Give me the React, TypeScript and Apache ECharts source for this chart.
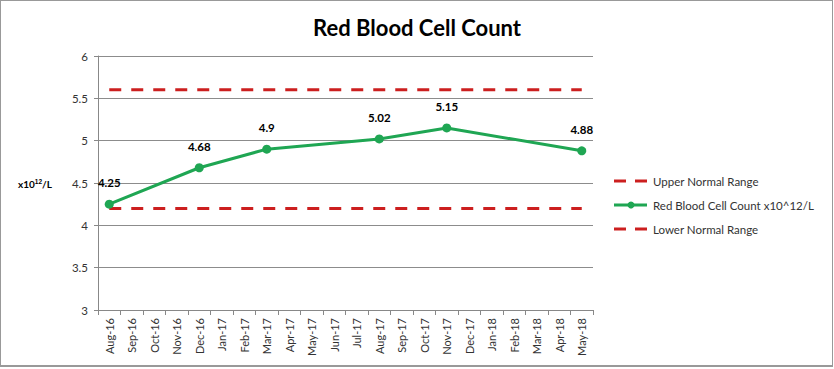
import React, { useEffect, useRef } from "react";
import * as echarts from "echarts";

const categories = [
  "Aug-16", "Sep-16", "Oct-16", "Nov-16", "Dec-16", "Jan-17", "Feb-17", "Mar-17",
  "Apr-17", "May-17", "Jun-17", "Jul-17", "Aug-17", "Sep-17", "Oct-17", "Nov-17",
  "Dec-17", "Jan-18", "Feb-18", "Mar-18", "Apr-18", "May-18",
];
const rbcValues: (number | null)[] = [
  4.25, null, null, null, 4.68, null, null, 4.9,
  null, null, null, null, 5.02, null, null, 5.15,
  null, null, null, null, null, 4.88,
];
const UPPER_NORMAL = 5.6;
const LOWER_NORMAL = 4.2;
const upperValues = categories.map(() => UPPER_NORMAL);
const lowerValues = categories.map(() => LOWER_NORMAL);
const yTicks = { min: 3, max: 6, interval: 0.5 };
const seriesNames = ["Upper Normal Range", "Red Blood Cell Count x10^12/L", "Lower Normal Range"];

const FONT = "Lato, 'Open Sans', sans-serif";
const RED = "#cc1f1f";
const GREEN = "#1fa653";

function legendItem(y: number, name: string, kind: "dash" | "line") {
  const children: any[] = [];
  if (kind === "dash") {
    children.push(
      { type: "line", shape: { x1: 614, y1: y, x2: 626, y2: y }, style: { stroke: RED, lineWidth: 3 } },
      { type: "line", shape: { x1: 635, y1: y, x2: 647, y2: y }, style: { stroke: RED, lineWidth: 3 } }
    );
  } else {
    children.push(
      { type: "line", shape: { x1: 614, y1: y, x2: 647, y2: y }, style: { stroke: GREEN, lineWidth: 3 } },
      { type: "circle", shape: { cx: 631, cy: y, r: 3.5 }, style: { fill: GREEN } }
    );
  }
  children.push({
    type: "text",
    x: 653,
    y: y,
    style: {
      text: name,
      fontFamily: FONT,
      fontSize: 11.5,
      fill: "#333",
      verticalAlign: "middle",
    },
  });
  return { type: "group", children };
}

export default function App() {
  const ref = useRef<HTMLDivElement>(null);
  useEffect(() => {
    document.body.style.margin = "0";
    if (!ref.current) return;
    const chart = echarts.init(ref.current, null, { renderer: "svg" });
    chart.setOption({
      animation: false,
      backgroundColor: "#fff",
      textStyle: { fontFamily: FONT },
      title: {
        text: "Red Blood Cell Count",
        left: "center",
        top: 11,
        textStyle: { fontFamily: FONT, fontSize: 22, fontWeight: "bold", color: "#000" },
      },
      grid: { left: 98, right: 241, top: 56, bottom: 59 },
      legend: { show: false, data: seriesNames },
      graphic: [
        {
          type: "text",
          left: 18,
          top: 178,
          style: {
            text: "x10{sup|12}/L",
            fontFamily: FONT,
            fontSize: 10,
            fontWeight: "bold",
            fill: "#000",
            rich: {
              sup: { fontSize: 6.5, fontWeight: "bold", verticalAlign: "top", padding: [0, 0, 5, 0] },
            },
          },
        },
        legendItem(181, seriesNames[0], "dash"),
        legendItem(205, seriesNames[1], "line"),
        legendItem(229, seriesNames[2], "dash"),
      ],
      xAxis: {
        type: "category",
        data: categories,
        boundaryGap: true,
        axisLine: { lineStyle: { color: "#888", width: 1 } },
        axisTick: { show: true, length: 5, lineStyle: { color: "#888" } },
        axisLabel: {
          rotate: 90,
          interval: 0,
          fontFamily: FONT,
          fontSize: 11,
          color: "#333",
          margin: 8,
        },
      },
      yAxis: {
        type: "value",
        min: yTicks.min,
        max: yTicks.max,
        interval: yTicks.interval,
        axisLine: { show: true, lineStyle: { color: "#888" } },
        axisTick: { show: true, length: 4, lineStyle: { color: "#888" } },
        splitLine: { lineStyle: { color: "#8c8c8c", width: 1 } },
        axisLabel: { fontFamily: FONT, fontSize: 11.5, color: "#333", margin: 10 },
      },
      series: [
        {
          name: seriesNames[0],
          type: "line",
          data: upperValues,
          symbol: "none",
          lineStyle: { color: RED, width: 3, type: [12, 10] },
          itemStyle: { color: RED },
          z: 2,
        },
        {
          name: seriesNames[1],
          type: "line",
          data: rbcValues,
          connectNulls: true,
          symbol: "circle",
          symbolSize: 9,
          lineStyle: { color: GREEN, width: 3 },
          itemStyle: { color: GREEN },
          label: {
            show: true,
            position: "top",
            distance: 11,
            fontFamily: FONT,
            fontSize: 11.5,
            fontWeight: "bold",
            color: "#000",
          },
          z: 3,
        },
        {
          name: seriesNames[2],
          type: "line",
          data: lowerValues,
          symbol: "none",
          lineStyle: { color: RED, width: 3, type: [12, 10] },
          itemStyle: { color: RED },
          z: 2,
        },
      ],
    });
    return () => chart.dispose();
  }, []);
  return (
    <div style={{ position: "relative", width: 834, height: 369 }}>
      <div ref={ref} style={{ position: "absolute", left: 0, top: 0, width: 834, height: 369 }} />
      <div
        style={{
          position: "absolute",
          left: 0,
          top: 0,
          width: 833,
          height: 367,
          boxSizing: "border-box",
          border: "1px solid #999",
          borderBottomWidth: 2,
          pointerEvents: "none",
        }}
      />
    </div>
  );
}
